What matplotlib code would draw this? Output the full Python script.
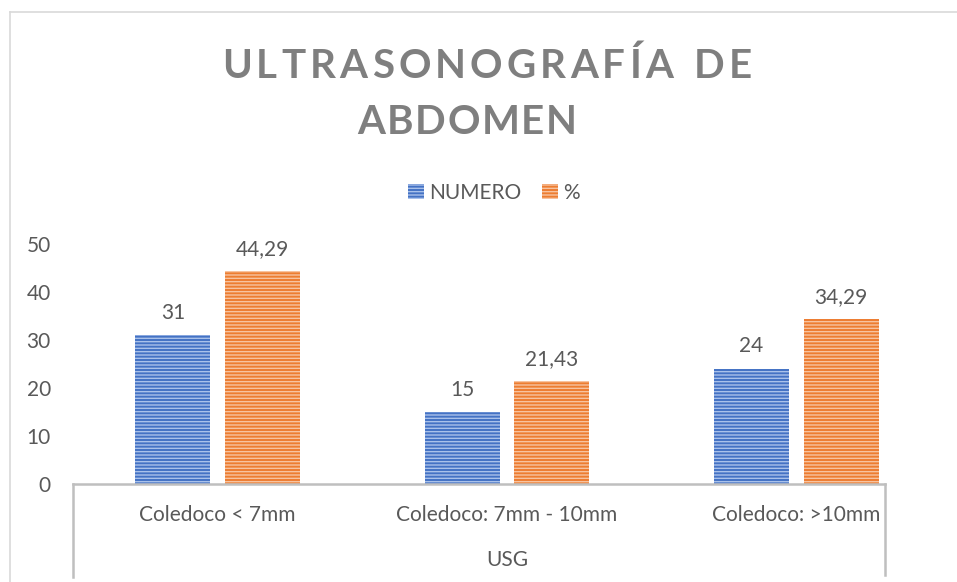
import matplotlib.pyplot as plt
import matplotlib.patches as mpatches
import matplotlib.transforms as mtransforms
import numpy as np

# Datos del grafico
categorias = ['Coledoco < 7mm', 'Coledoco: 7mm - 10mm', 'Coledoco: >10mm']
numero = [31, 15, 24]
porcentaje = [44.29, 21.43, 34.29]
etiq_numero = ['31', '15', '24']
etiq_porc = ['44,29', '21,43', '34,29']
series = ['NUMERO', '%']
titulo = ['ULTRASONOGRAFÍA DE', 'ABDOMEN']

gris = '#595959'
gris_tit = '#7F7F7F'
azul, azul_cl = '#4472C4', '#A9C1EA'
naranja, naranja_cl = '#ED7D31', '#F7C3A0'
fs = 15

plt.rcParams['font.family'] = ['Lato', 'DejaVu Sans']
plt.rcParams['hatch.linewidth'] = 1.0

fig = plt.figure(figsize=(9.57, 5.82), dpi=100)
ax = fig.add_axes([73/957, 1-484/582, (941-73)/957, 240/582])

x = np.arange(len(categorias))
w = 0.259
off = 0.155
ax.bar(x - off, numero, w, color=azul, edgecolor=azul_cl, linewidth=0, hatch='-----')
ax.bar(x + off, porcentaje, w, color=naranja, edgecolor=naranja_cl, linewidth=0, hatch='-----')

for i in range(len(x)):
    ax.text(x[i] - off, numero[i] + 2.6, etiq_numero[i], ha='center', va='bottom', fontsize=fs, color=gris)
    ax.text(x[i] + off, porcentaje[i] + 2.6, etiq_porc[i], ha='center', va='bottom', fontsize=fs, color=gris)

ax.set_xlim(-0.5, 2.5)
ax.set_ylim(0, 50)
ax.set_yticks([0, 10, 20, 30, 40, 50])
ax.tick_params(axis='y', length=0, labelsize=fs, labelcolor=gris, pad=16)
ax.set_xticks([])
for s in ax.spines.values():
    s.set_visible(False)

# eje de categorias
tr = mtransforms.blended_transform_factory(ax.transData, ax.transAxes)
xr = 2 + (885 - 796.5) / 289.5
ax.plot([-0.5, xr], [0, 0], color='#BFBFBF', lw=1.8, transform=tr, clip_on=False)
ax.plot([-0.5, -0.5], [0, -93/240], color='#BFBFBF', lw=1.8, transform=tr, clip_on=False)
ax.plot([xr, xr], [0, -91/240], color='#BFBFBF', lw=1.8, transform=tr, clip_on=False)
for i, c in enumerate(categorias):
    ax.text(x[i], -31/240, c, ha='center', va='center', fontsize=fs, color=gris, transform=tr)
ax.text(1, -76/240, 'USG', ha='center', va='center', fontsize=fs, color=gris, transform=tr)

# titulo con espaciado entre letras
renderer = fig.canvas.get_renderer()
def linea_espaciada(txt, cx, cy, ancho, size):
    anchos = []
    for ch in txt:
        t = fig.text(0, 0, ch if ch != ' ' else 'n', fontsize=size, fontweight='bold')
        bb = t.get_window_extent(renderer)
        anchos.append(bb.width * (0.55 if ch == ' ' else 1))
        t.remove()
    track = (ancho - sum(anchos)) / (len(txt) - 1)
    xpos = cx - ancho / 2
    for ch, a in zip(txt, anchos):
        fig.text(xpos / 957, 1 - cy / 582, ch, fontsize=size, fontweight='bold',
                 color=gris_tit, ha='left', va='center')
        xpos += a + track

linea_espaciada(titulo[0], 487, 66, 530, 29)
linea_espaciada(titulo[1], 467, 123, 220, 29)

# leyenda
h1 = mpatches.Patch(facecolor=azul, edgecolor=azul_cl, linewidth=0, hatch='-----', label=series[0])
h2 = mpatches.Patch(facecolor=naranja, edgecolor=naranja_cl, linewidth=0, hatch='-----', label=series[1])
fig.legend(handles=[h1, h2], loc='center', bbox_to_anchor=(494/957, 1-193/582), ncol=2,
           frameon=False, fontsize=fs, labelcolor=gris, handlelength=0.75, handleheight=0.75,
           handletextpad=0.25, columnspacing=1.0)

# borde exterior
fig.add_artist(plt.Line2D([10/957, 1], [1-12/582, 1-12/582], color='#D9D9D9', lw=1.2))
fig.add_artist(plt.Line2D([10/957, 10/957], [0, 1-12/582], color='#D9D9D9', lw=1.2))

fig.savefig('out.png', dpi=100)
